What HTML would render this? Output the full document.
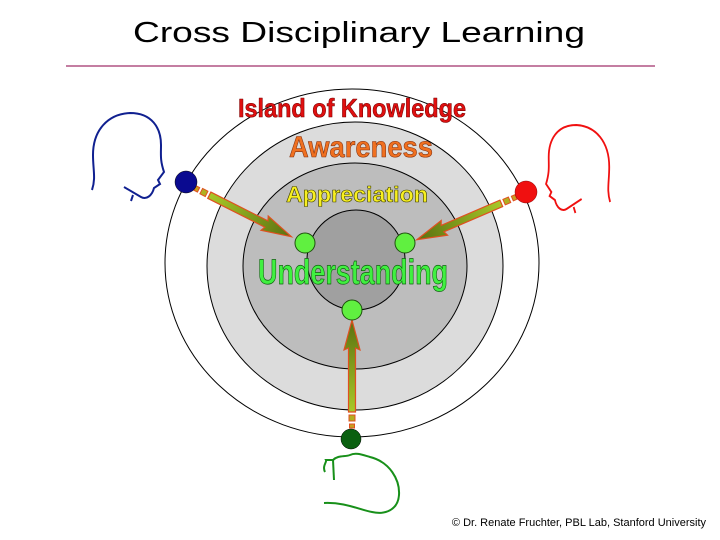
<!DOCTYPE html>
<html><head><meta charset="utf-8"><style>
html,body{margin:0;padding:0;background:#fff}
svg{display:block}
</style></head><body>
<svg width="720" height="540" viewBox="0 0 720 540" xmlns="http://www.w3.org/2000/svg">
<defs>
<linearGradient id="ag" x1="0" y1="0" x2="1" y2="0">
<stop offset="0" stop-color="#a8c828"/><stop offset="1" stop-color="#5a7010"/>
</linearGradient>
<g id="arrow">
<rect x="0" y="-2.5" width="4" height="5" fill="#c8a020" stroke="#e05020" stroke-width="1"/>
<rect x="7" y="-3" width="6" height="6" fill="#b0b020" stroke="#e05020" stroke-width="1"/>
<polygon points="16,-3.5 80,-3.5 78,-8 108,0 78,8 80,3.5 16,3.5" fill="url(#ag)" stroke="#e05020" stroke-width="1.2" stroke-linejoin="miter"/>
</g>
<path id="head" d="M92,190 C96,178 93,170 93,155 C93,130 108,114 130,113 C152,113 161,128 161,145 C161,155 160,160 164,172 L158,180 L160,184 L154,188 C152,196 146,200 141,197 L124,187 M133,195 L131,201" fill="none" stroke-width="2"/>
</defs>
<text x="359" y="42" text-anchor="middle" font-family="Liberation Sans, sans-serif" font-size="29" textLength="452" lengthAdjust="spacingAndGlyphs" fill="#000">Cross Disciplinary Learning</text>
<line x1="66" y1="66" x2="655" y2="66" stroke="#a0306a" stroke-width="1.2"/>

<ellipse cx="352" cy="263" rx="187" ry="174" fill="#fff" stroke="#000" stroke-width="1"/>
<ellipse cx="355" cy="266" rx="148" ry="144" fill="#dcdcdc" stroke="#000" stroke-width="1"/>
<ellipse cx="355" cy="266" rx="112" ry="103" fill="#bdbdbd" stroke="#000" stroke-width="1"/>
<ellipse cx="356" cy="260" rx="49" ry="50" fill="#a0a0a0" stroke="#000" stroke-width="1"/>

<g font-family="Liberation Sans, sans-serif" font-weight="bold" text-anchor="middle" stroke-linejoin="round">
<text x="352" y="117" font-size="26" fill="#e01010" stroke="#700" stroke-width="0.6" textLength="228" lengthAdjust="spacingAndGlyphs">Island of Knowledge</text>
<text x="361" y="157" font-size="30" fill="#f07020" stroke="#803010" stroke-width="0.6" textLength="144" lengthAdjust="spacingAndGlyphs">Awareness</text>
<text x="357" y="202" font-size="22" fill="#f8f020" stroke="#404000" stroke-width="0.6" textLength="142" lengthAdjust="spacingAndGlyphs">Appreciation</text>
<text x="353" y="284" font-size="35" fill="#40f040" stroke="#106010" stroke-width="0.7" textLength="190" lengthAdjust="spacingAndGlyphs">Understanding</text>
</g>

<use href="#arrow" transform="translate(195,188) rotate(26.8)"/>
<use href="#arrow" transform="translate(516,197) rotate(156.7)"/>
<use href="#arrow" transform="translate(352,428) rotate(-90)"/>

<circle cx="305" cy="243" r="10" fill="#60f040" stroke="#205010" stroke-width="1"/>
<circle cx="405" cy="243" r="10" fill="#60f040" stroke="#205010" stroke-width="1"/>
<circle cx="352" cy="310" r="10" fill="#60f040" stroke="#205010" stroke-width="1"/>
<circle cx="186" cy="182" r="11" fill="#0a0a90" stroke="#000" stroke-width="0.5"/>
<circle cx="526" cy="192" r="11" fill="#f01010" stroke="#800" stroke-width="0.5"/>
<circle cx="351" cy="439" r="10" fill="#0a6010" stroke="#000" stroke-width="0.5"/>

<use href="#head" stroke="#102090"/>
<use href="#head" stroke="#f01010" transform="translate(692,12) scale(-0.89,1)"/>
<!-- green head -->
<path d="M325,472 C322,466 327,462 326,460 L333,460 C338,455 345,457 350,455 C356,452 363,455 370,457 C390,462 400,480 399,495 C398,510 385,515 372,512 C360,510 345,502 324,503" fill="none" stroke="#18901a" stroke-width="2"/>
<path d="M333,460 L334,480" fill="none" stroke="#18901a" stroke-width="2"/>

<text x="706" y="526" text-anchor="end" font-family="Liberation Sans, sans-serif" font-size="11" fill="#000">© Dr. Renate Fruchter, PBL Lab, Stanford University</text>
</svg>
</body></html>
